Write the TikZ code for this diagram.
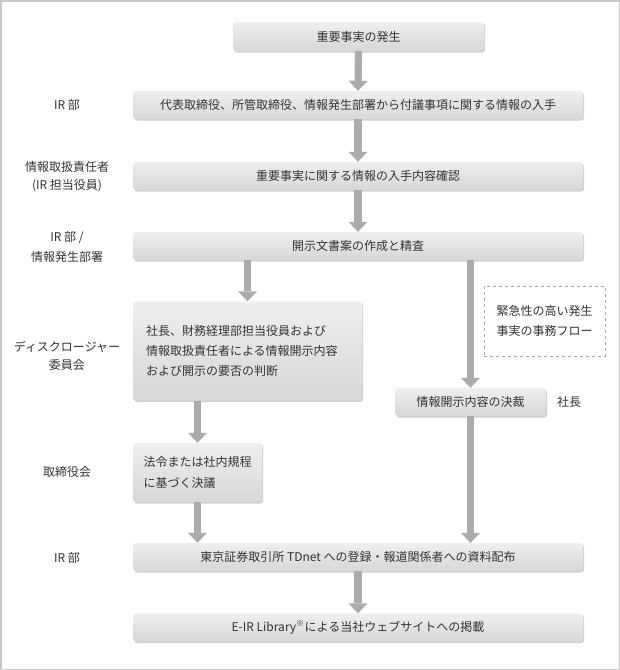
\documentclass[tikz,border=0pt]{standalone}
\usepackage{fontspec}
\setmainfont{Noto Sans CJK JP}
\usetikzlibrary{arrows.meta,shadows}
\definecolor{txt}{HTML}{333333}
\definecolor{arrowgray}{HTML}{ABABAB}
\definecolor{boxtop}{HTML}{EFEFEF}
\definecolor{boxbot}{HTML}{D7D7D7}
\definecolor{framegray}{HTML}{C8C8C8}
\begin{document}
\begin{tikzpicture}[x=1pt,y=-1pt,
  font=\fontsize{12pt}{20pt}\selectfont, text=txt,
  box/.style={rounded corners=3pt, top color=boxtop, bottom color=boxbot,
    draw=none, inner sep=0pt, minimum height=28pt,
    drop shadow={shadow xshift=1.2pt, shadow yshift=-1.5pt, fill=black, opacity=0.18}},
  wide/.style={box, minimum width=450pt},
  dashbox/.style={draw=arrowgray, line width=1pt, dash pattern=on 3pt off 3pt,
    fill=white, inner sep=0pt, minimum width=121pt, minimum height=70pt, align=left},
  lbl/.style={align=center, inner sep=0pt},
  arr/.style={draw=arrowgray, line width=7.2pt,
    -{Triangle[width=19pt,length=10pt,line width=0pt]}}
]
\useasboundingbox (0,0) rectangle (620,670);
\fill[white] (0,0) rectangle (620,670);
\draw[framegray, line width=1.5pt] (0.75,0.75) rectangle (619.25,669.25);

% boxes
\node[box, minimum width=251pt, minimum height=29pt] (n1) at (358.5,36.5) {重要事実の発生};
\node[wide] (n2) at (358,105) {代表取締役、所管取締役、情報発生部署から付議事項に関する情報の入手};
\node[wide] (n3) at (358,176) {重要事実に関する情報の入手内容確認};
\node[wide] (n4) at (358,246) {開示文書案の作成と精査};
\node[box, minimum height=99pt, text width=203pt, inner xsep=13pt, align=left] (n5) at (247.5,351)
  {社長、財務経理部担当役員および\\情報取扱責任者による情報開示内容\\および開示の要否の判断};
\node[dashbox] (nd) at (544.5,321) {緊急性の高い発生\\事実の事務フロー};
\node[box, minimum width=151pt] (n6) at (470.5,402) {情報開示内容の決裁};
\node[box, minimum width=129pt, minimum height=59pt, align=left,
  font=\fontsize{12pt}{21pt}\selectfont] (n7) at (197.5,472.5) {法令または社内規程\\に基づく決議};
\node[wide] (n8) at (358,557) {東京証券取引所 TDnet への登録・報道関係者への資料配布};
\node[wide] (n9) at (358,627.5) {E-IR Library\textsuperscript{※}による当社ウェブサイトへの掲載};

% left labels
\node[lbl] (l2) at (67,105) {IR 部};
\node[lbl, font=\fontsize{12pt}{18pt}\selectfont] (l3) at (67,177) {情報取扱責任者\\(IR 担当役員)};
\node[lbl] (l4) at (67,247) {IR 部 /\\情報発生部署};
\node[lbl, font=\fontsize{12pt}{18pt}\selectfont] (l5) at (67,356) {ディスクロージャー\\委員会};
\node[lbl] (l7) at (67,472) {取締役会};
\node[lbl] (l8) at (67,558) {IR 部};
\node[lbl] (l6) at (569,402) {社長};

% arrows
\draw[arr] (n1.south) -- (n2.north);
\draw[arr] (n2.south) -- (n3.north);
\draw[arr] (n3.south) -- (n4.north);
\draw[arr] (n4.south -| n5.north) -- (n5.north);
\draw[arr] (n4.south -| n6.north) -- (n6.north);
\draw[arr] (n5.south -| n7.north) -- (n7.north);
\draw[arr] (n7.south) -- (n8.north -| n7.south);
\draw[arr] (n6.south) -- (n8.north -| n6.south);
\draw[arr] (n8.south) -- (n9.north);
\end{tikzpicture}
\end{document}
